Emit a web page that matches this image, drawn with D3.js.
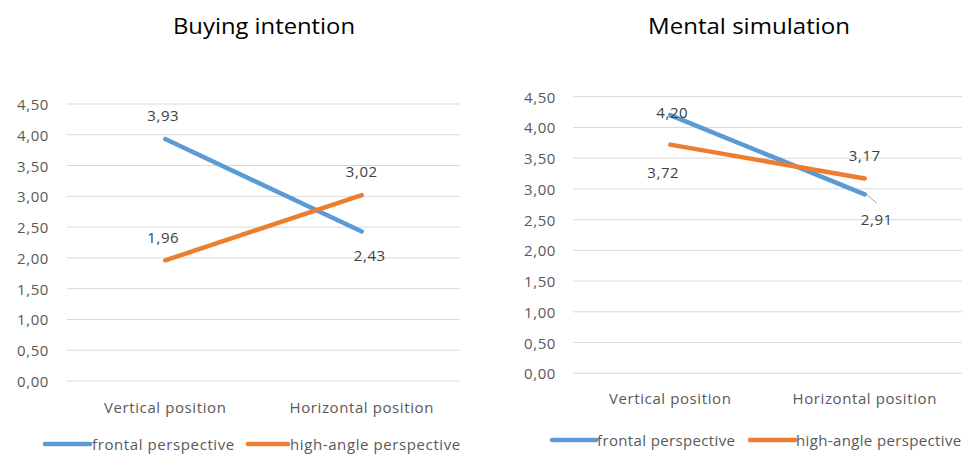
<!DOCTYPE html>
<html>
<head>
<meta charset="utf-8">
<script src="https://cdn.jsdelivr.net/npm/d3@7"></script>
<style>
  html, body { margin: 0; padding: 0; background: #fff; }
  svg { display: block; }
</style>
</head>
<body>
<svg id="chart" width="972" height="455"></svg>
<script>
// ---- data ----
const categories = ["Vertical position", "Horizontal position"];
const seriesNames = ["frontal perspective", "high-angle perspective"];
const buyingFrontal = [3.93, 2.43];
const buyingHighAngle = [1.96, 3.02];
const mentalFrontal = [4.20, 2.91];
const mentalHighAngle = [3.72, 3.17];
const yTicks = [0, 0.5, 1, 1.5, 2, 2.5, 3, 3.5, 4, 4.5];
const titles = ["Buying intention", "Mental simulation"];

// ---- styles / layout ----
const colors = ["#5B9BD5", "#ED7D31"];
const fmt = v => d3.format(".2f")(v).replace(".", ",");
const smallFont = "'Open Sans', 'Noto Sans', sans-serif";
const titleFont = "'Open Sans', 'Noto Sans', sans-serif";
const smallSize = 15;
const smallSpacing = 0.6;

const panels = [
  {
    title: titles[0], titleX: 264, titleY: 33.5, titleW: 182,
    x0: 67, x1: 460, yBottom: 381, yTop: 104, tickX: 49, catY: 407,
    legendY: 444, legend: [{l0: 45, l1: 90, t: 92}, {l0: 248, l1: 288, t: 290}],
    series: [buyingFrontal, buyingHighAngle],
    labelOff: [[[-2, -24], [8, 24]], [[-2, -23], [0, -24]]],
    leader: null
  },
  {
    title: titles[1], titleX: 749, titleY: 33.5, titleW: 202,
    x0: 573, x1: 962, yBottom: 373.3, yTop: 96.7, tickX: 556, catY: 398,
    legendY: 440, legend: [{l0: 552, l1: 596, t: 597}, {l0: 750, l1: 795, t: 796}],
    series: [mentalFrontal, mentalHighAngle],
    labelOff: [[[2, -3], [12, 25]], [[-7, 27], [0, -23]]],
    leader: {s: 0, i: 1}
  }
];

const svg = d3.select("#chart");

panels.forEach((p, pi) => {
  const g = svg.append("g");
  const x = d3.scaleBand().domain(categories).range([p.x0, p.x1]);
  const y = d3.scaleLinear().domain([0, 4.5]).range([p.yBottom, p.yTop]);
  const cx = c => x(c) + x.bandwidth() / 2;

  // title
  g.append("text")
    .attr("x", p.titleX).attr("y", p.titleY)
    .attr("text-anchor", "middle")
    .attr("font-family", titleFont).attr("font-size", 21)
    .attr("textLength", p.titleW).attr("lengthAdjust", "spacingAndGlyphs")
    .attr("fill", "#000")
    .text(p.title);

  // gridlines
  g.selectAll(".grid").data(yTicks).enter().append("line")
    .attr("x1", p.x0).attr("x2", p.x1)
    .attr("y1", d => y(d)).attr("y2", d => y(d))
    .attr("stroke", "#D9D9D9").attr("stroke-width", 1);

  // y tick labels
  g.selectAll(".ytick").data(yTicks).enter().append("text")
    .attr("x", p.tickX).attr("y", d => y(d))
    .attr("text-anchor", "end").attr("dominant-baseline", "central")
    .attr("font-family", smallFont).attr("font-size", smallSize)
    .attr("letter-spacing", smallSpacing)
    .attr("fill", "#595959")
    .text(d => fmt(d));

  // category labels
  g.selectAll(".cat").data(categories).enter().append("text")
    .attr("x", d => cx(d)).attr("y", p.catY)
    .attr("text-anchor", "middle").attr("dominant-baseline", "central")
    .attr("font-family", smallFont).attr("font-size", smallSize)
    .attr("letter-spacing", smallSpacing)
    .attr("fill", "#595959")
    .text(d => d);

  // lines
  const line = d3.line().x((d, i) => cx(categories[i])).y(d => y(d));
  p.series.forEach((s, si) => {
    g.append("path").datum(s)
      .attr("d", line)
      .attr("fill", "none")
      .attr("stroke", colors[si]).attr("stroke-width", 4.5)
      .attr("stroke-linecap", "round");
  });

  // leader line
  if (p.leader) {
    const v = p.series[p.leader.s][p.leader.i];
    const px = cx(categories[p.leader.i]), py = y(v);
    g.append("line")
      .attr("x1", px + 2).attr("y1", py)
      .attr("x2", px + 12).attr("y2", py + 9)
      .attr("stroke", "#A6A6A6").attr("stroke-width", 1);
  }

  // data labels
  p.series.forEach((s, si) => {
    g.selectAll(".dl" + si).data(s).enter().append("text")
      .attr("x", (d, i) => cx(categories[i]) + p.labelOff[si][i][0])
      .attr("y", (d, i) => y(d) + p.labelOff[si][i][1])
      .attr("text-anchor", "middle").attr("dominant-baseline", "central")
      .attr("font-family", smallFont).attr("font-size", smallSize)
      .attr("letter-spacing", smallSpacing)
      .attr("fill", "#404040")
      .text(d => fmt(d));
  });

  // legend
  seriesNames.forEach((name, si) => {
    const L = p.legend[si];
    g.append("line")
      .attr("x1", L.l0).attr("x2", L.l1)
      .attr("y1", p.legendY).attr("y2", p.legendY)
      .attr("stroke", colors[si]).attr("stroke-width", 4.5)
      .attr("stroke-linecap", "round");
    g.append("text")
      .attr("x", L.t).attr("y", p.legendY)
      .attr("dominant-baseline", "central")
      .attr("font-family", smallFont).attr("font-size", smallSize)
      .attr("letter-spacing", pi === 0 ? smallSpacing : smallSpacing * 0.6)
      .attr("fill", "#595959")
      .text(name);
  });
});
</script>
</body>
</html>
